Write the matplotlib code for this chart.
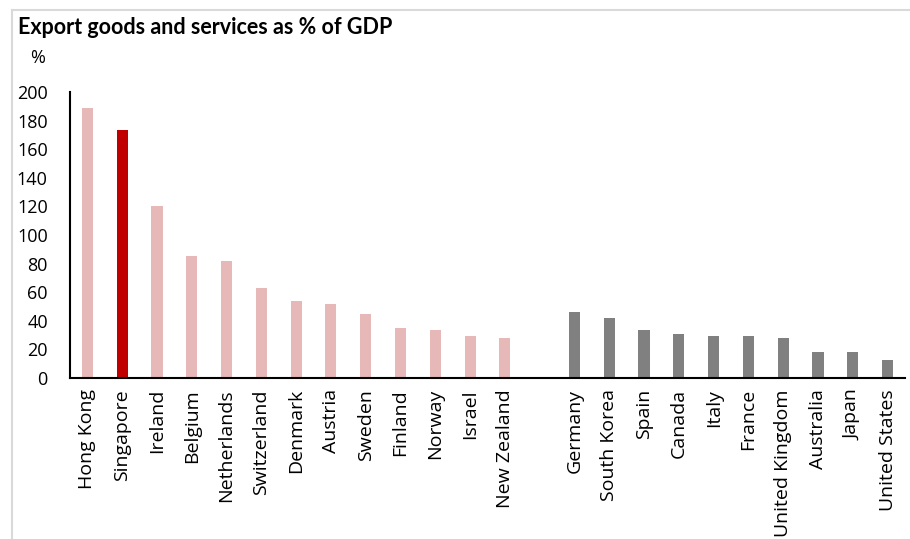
import matplotlib
matplotlib.use('Agg')
import matplotlib.pyplot as plt
from matplotlib.lines import Line2D

# Export of goods and services, % of GDP
small_open = ['Hong Kong', 'Singapore', 'Ireland', 'Belgium', 'Netherlands',
              'Switzerland', 'Denmark', 'Austria', 'Sweden', 'Finland',
              'Norway', 'Israel', 'New Zealand']
small_vals = [189, 173.5, 120.5, 85.5, 81.5, 63, 53.5, 52, 45, 35.2, 33.8, 29.6, 28.2]

large = ['Germany', 'South Korea', 'Spain', 'Canada', 'Italy', 'France',
         'United Kingdom', 'Australia', 'Japan', 'United States']
large_vals = [46.2, 42, 33.8, 31, 29.4, 29.4, 28, 18.2, 18.2, 12.6]

highlight = 'Singapore'

pink = '#E6B8B7'
red = '#C00000'
grey = '#808080'

plt.rcParams['font.family'] = ['Open Sans', 'DejaVu Sans']

fig = plt.figure(figsize=(9.10, 5.39), dpi=100)
ax = fig.add_axes([0.0769, 0.2987, 0.9176, 0.5306])

# one empty slot between the two groups
labels = small_open + [''] + large
x_small = list(range(len(small_open)))
x_large = [len(small_open) + 1 + i for i in range(len(large))]

cols = [red if c == highlight else pink for c in small_open]
ax.bar(x_small, small_vals, width=0.32, color=cols)
ax.bar(x_large, large_vals, width=0.32, color=grey)

ax.set_xlim(-0.5, len(labels) - 0.5)
ax.set_ylim(0, 200)
ax.set_yticks(range(0, 201, 20))
ax.set_xticks(range(len(labels)))
ax.set_xticklabels(labels, rotation=90, fontsize=14)
ax.tick_params(axis='x', length=0, pad=8)
ax.tick_params(axis='y', length=0, pad=16, labelsize=13)

for s in ['top', 'right']:
    ax.spines[s].set_visible(False)
ax.spines['left'].set_linewidth(1.5)
ax.spines['bottom'].set_linewidth(1.5)

fig.text(18 / 910, 1 - 28 / 539, 'Export goods and services as % of GDP',
         family=['Lato', 'DejaVu Sans'], fontsize=15.5, fontweight='bold',
         va='center', ha='left')
fig.text(38 / 910, 1 - 58 / 539, '%', fontsize=13, va='center', ha='center')

# light frame on the left and top edges
fig.add_artist(Line2D([12 / 910, 12 / 910], [0, 1 - 10 / 539],
                      color='#D9D9D9', lw=1.5, transform=fig.transFigure))
fig.add_artist(Line2D([12 / 910, 1], [1 - 10 / 539, 1 - 10 / 539],
                      color='#D9D9D9', lw=1.5, transform=fig.transFigure))

fig.savefig('out.png', dpi=100)
